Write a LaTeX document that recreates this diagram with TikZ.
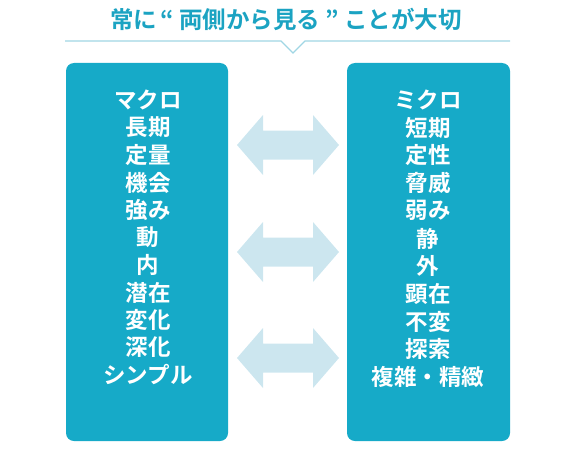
\documentclass[tikz,border=0pt]{standalone}
\usepackage{fontspec}
\newfontfamily\cjk{Noto Sans CJK JP}[BoldFont={Noto Sans CJK JP Bold}]
\definecolor{boxteal}{RGB}{22,170,200}
\definecolor{titleteal}{RGB}{27,163,194}
\definecolor{rulecol}{RGB}{160,214,228}
\definecolor{arrowcol}{RGB}{204,230,239}
\begin{document}
\begin{tikzpicture}[x=1pt,y=-1pt,
  panel/.style={fill=boxteal,draw=none,rounded corners=8pt},
  item/.style={text=white,font=\cjk\bfseries\fontsize{22.5}{24}\selectfont,inner sep=0pt,anchor=center},
  dblarrow/.style={fill=arrowcol,draw=none}]
\useasboundingbox (0,0) rectangle (567,460);
% title
\node[font=\cjk\bfseries\fontsize{23.5}{28}\selectfont,text=titleteal,inner sep=0pt] (title) at (286,19) {常に\hspace{3pt}“ 両側から見る ” ことが大切};
\draw[rulecol,line width=1.2pt] (65,41) -- (281,41) -- (293,53) -- (305,41) -- (510,41);
% panels
\node[panel,minimum width=162pt,minimum height=378pt,inner sep=0pt] (left) at (147,252) {};
\node[panel,minimum width=163pt,minimum height=378pt,inner sep=0pt] (right) at (428.5,252) {};
% left items
\foreach \t [count=\i] in {マクロ,長期,定量,機会,強み,動,内,潜在,変化,深化,シンプル}
  \node[item] (L\i) at (148,{100+27.5*(\i-1)}) {\t};
\foreach \t [count=\i] in {ミクロ,短期,定性,脅威,弱み,静,外,顕在,不変,探索,複雑・精緻}
  \node[item] (R\i) at (428,{100+27.7*(\i-1)}) {\t};
% arrows
\foreach \cy in {145,252,358}{
  \fill[dblarrow] (237,\cy) -- (263,{\cy-30}) -- (263,{\cy-14.5}) -- (313,{\cy-14.5}) -- (313,{\cy-30})
    -- (339,\cy) -- (313,{\cy+30}) -- (313,{\cy+14.5}) -- (263,{\cy+14.5}) -- (263,{\cy+30}) -- cycle;
}
\end{tikzpicture}
\end{document}
